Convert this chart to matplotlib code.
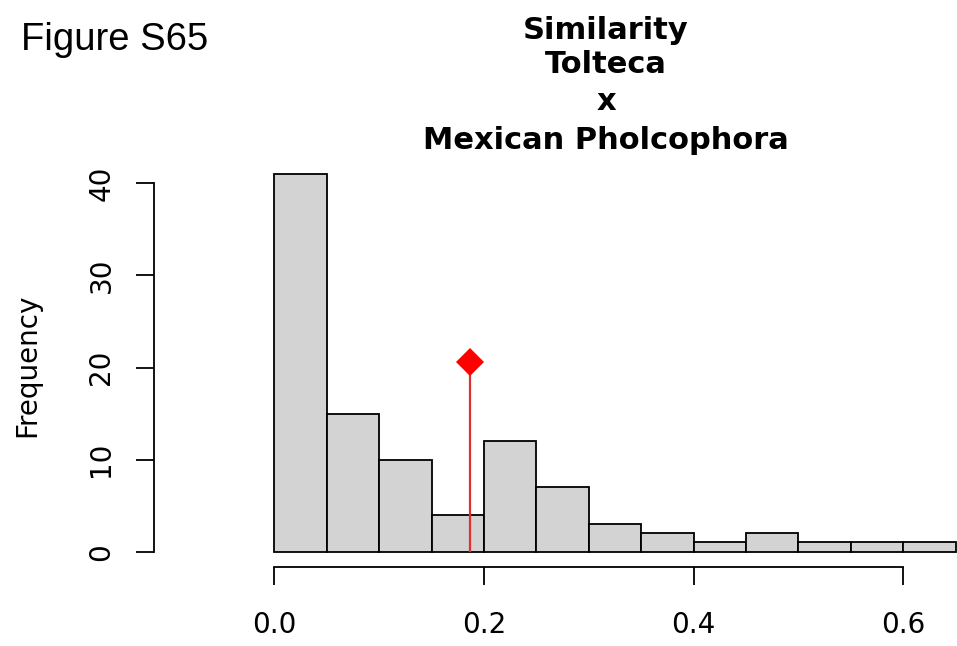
import matplotlib
matplotlib.use("Agg")
import matplotlib.pyplot as plt
import numpy as np

# Histogram of similarity values
bin_edges = [0.00, 0.05, 0.10, 0.15, 0.20, 0.25, 0.30, 0.35, 0.40, 0.45, 0.50, 0.55, 0.60, 0.65]
counts = [41, 15, 10, 4, 12, 7, 3, 2, 1, 2, 1, 1, 1]

# Observed similarity (marked in red)
observed_x = 0.187
observed_height = 20.56

x_ticks = [0.0, 0.2, 0.4, 0.6]
x_tick_labels = ["0.0", "0.2", "0.4", "0.6"]
y_ticks = [0, 10, 20, 30, 40]
y_tick_labels = ["0", "10", "20", "30", "40"]

title_lines = ["Similarity", "Tolteca", "x", "Mexican Pholcophora"]
panel_label = "Figure S65"
y_label = "Frequency"

W, H = 957, 646
fig = plt.figure(figsize=(W / 100, H / 100), dpi=100)
fig.patch.set_facecolor("white")

# plot region in pixels
left_px, right_px, bottom_px, top_px = 154.3, 957.0, 567.0, 160.0
ax = fig.add_axes([left_px / W, 1 - bottom_px / H,
                   (right_px - left_px) / W, (bottom_px - top_px) / H])

ax.set_xlim(-0.1144, 0.6512)
ax.set_ylim(-1.661, 42.53)

edges = np.array(bin_edges)
widths = np.diff(edges)
ax.bar(edges[:-1], counts, width=widths, align="edge",
       color="#D3D3D3", edgecolor="black", linewidth=1.3, zorder=2)

ax.plot([observed_x, observed_x], [0, observed_height], color="#E23030",
        linewidth=1.6, zorder=3, solid_capstyle="butt")
ax.plot([observed_x], [observed_height], marker="D", markersize=14.5,
        color="red", markeredgewidth=0, linestyle="none", zorder=4)

for side in ("top", "right"):
    ax.spines[side].set_visible(False)
ax.spines["left"].set_bounds(0, 40)
ax.spines["bottom"].set_bounds(0, 0.6)
for side in ("left", "bottom"):
    ax.spines[side].set_linewidth(1.3)

ax.set_xticks(x_ticks)
ax.set_xticklabels(x_tick_labels)
ax.set_yticks(y_ticks)
ax.set_yticklabels(y_tick_labels, rotation=90, va="center")

ax.tick_params(axis="both", direction="out", length=13, width=1.3,
               labelsize=20, colors="black")
ax.tick_params(axis="x", pad=19)
ax.tick_params(axis="y", pad=15)
for lab in ax.get_xticklabels() + ax.get_yticklabels():
    lab.set_fontfamily("DejaVu Sans")

# axis title
fig.text(27 / W, 1 - 365 / H, y_label, rotation=90, ha="center", va="center",
         fontsize=20, family="DejaVu Sans")

# main title, one line at a time
title_baselines = [39, 73, 110, 149]
for line, base in zip(title_lines, title_baselines):
    fig.text(606 / W, 1 - base / H, line, ha="center", va="baseline",
             fontsize=22, fontweight="bold", family="DejaVu Sans")

# panel label
fig.text(21 / W, 1 - 50 / H, panel_label, ha="left", va="baseline",
         fontsize=27.5, family="Liberation Sans")

fig.savefig("out.png", dpi=100, facecolor="white")
